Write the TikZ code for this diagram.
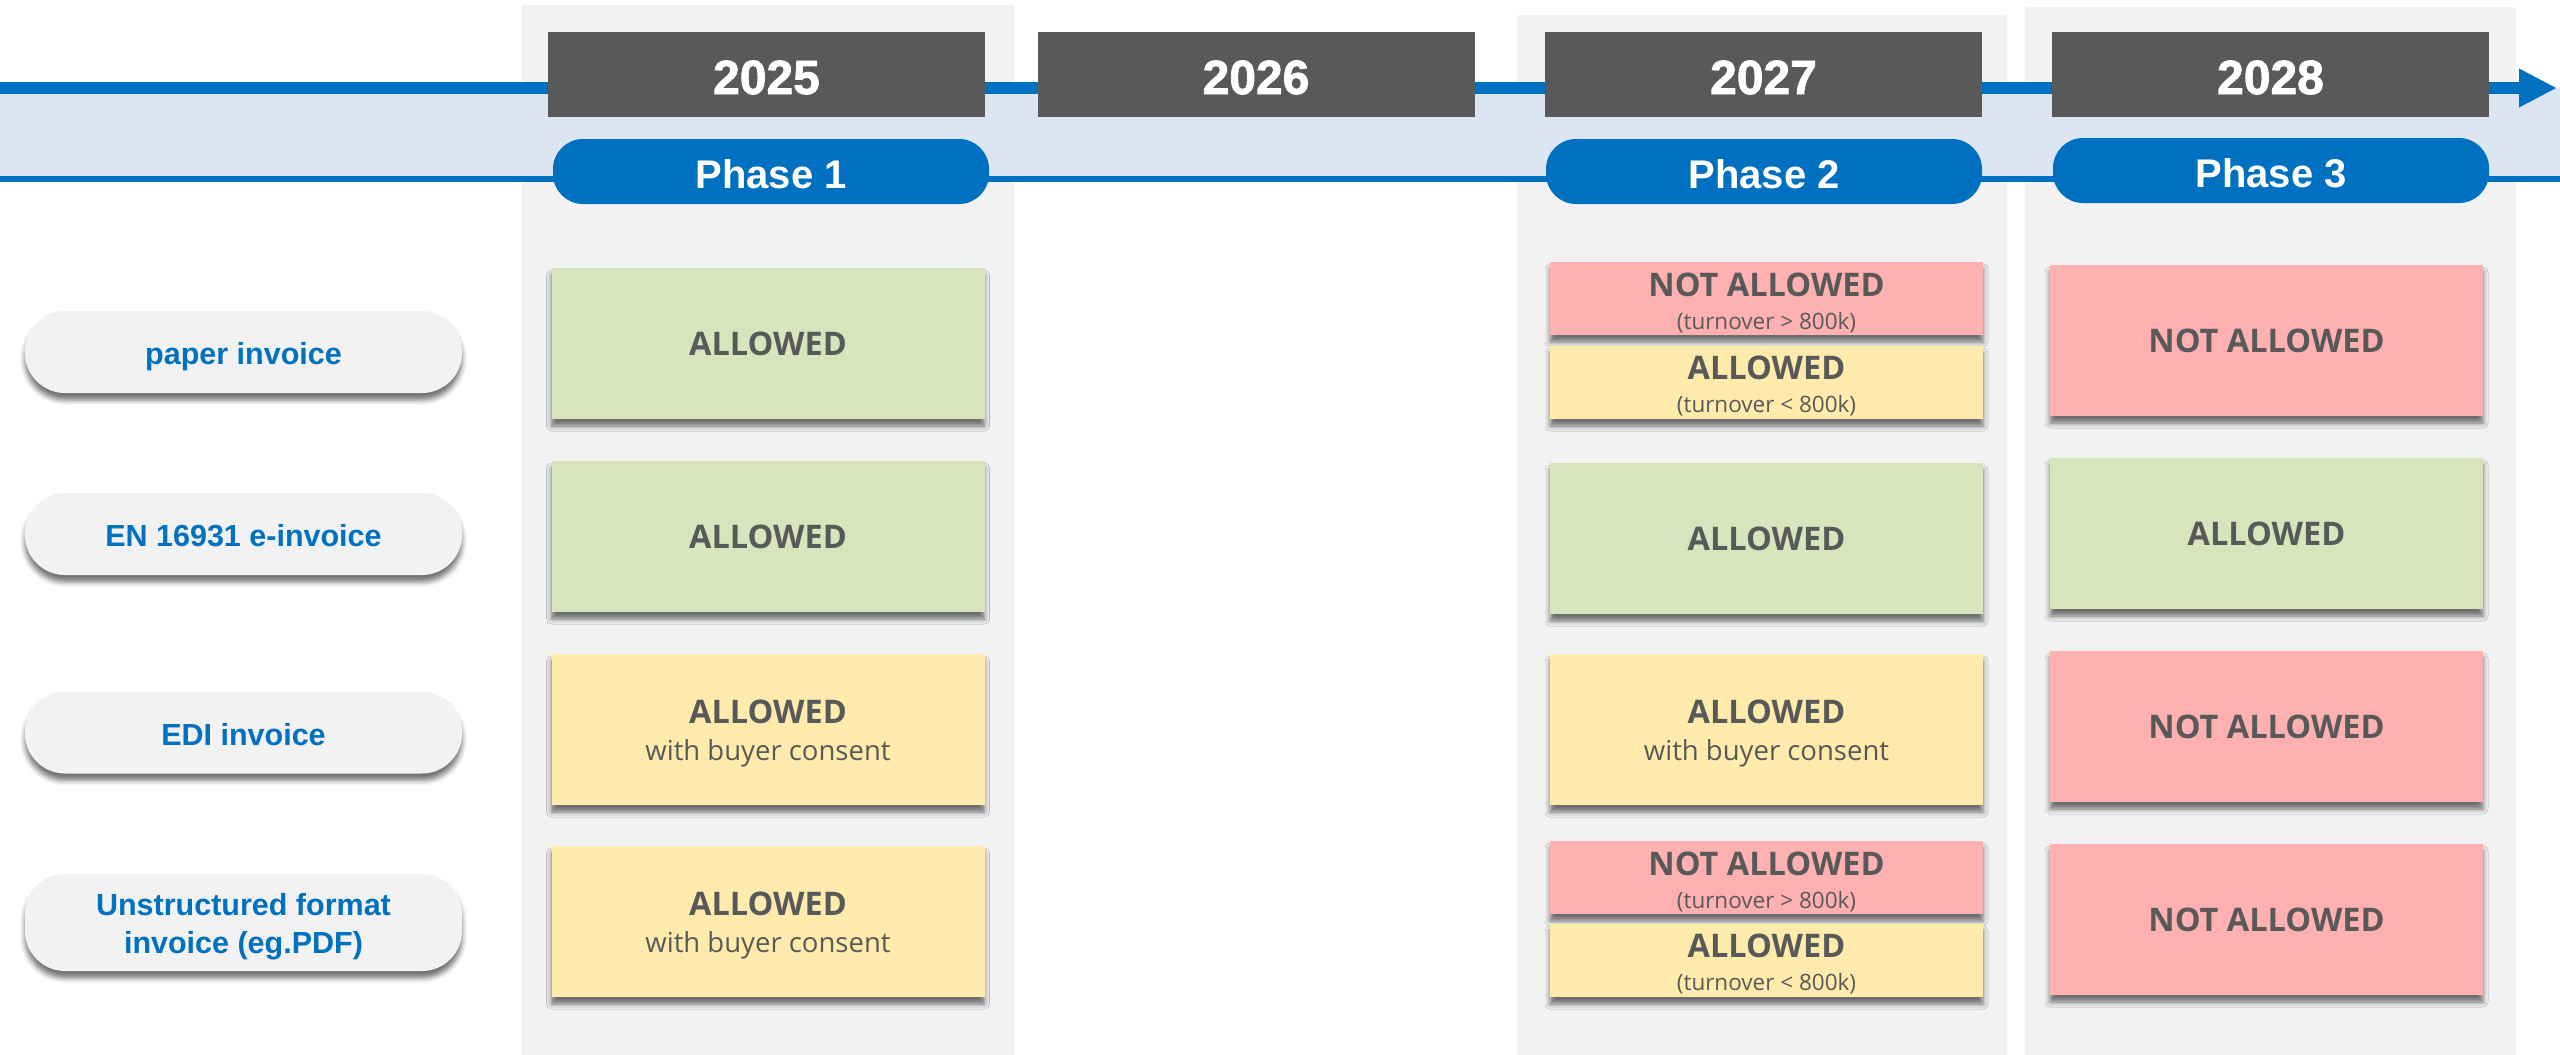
\documentclass[tikz,border=0pt]{standalone}
\usepackage{fontspec}
\setmainfont{Open Sans}
\newfontfamily\hdfont{Liberation Sans}
\newfontfamily\heavyfont[FakeBold=1.6]{Liberation Sans}
\usetikzlibrary{shadows.blur,calc,arrows.meta}
\definecolor{mainblue}{HTML}{0070C0}
\definecolor{bandblue}{HTML}{DCE6F2}
\definecolor{colgray}{HTML}{F2F2F2}
\definecolor{darkbox}{HTML}{595959}
\definecolor{okgreen}{HTML}{D8E4BC}
\definecolor{okyellow}{HTML}{FFEBAB}
\definecolor{nored}{HTML}{FFB1B1}
\definecolor{txtgray}{HTML}{595959}
\begin{document}
\begin{tikzpicture}[x=1pt,y=-1pt,
  colbg/.style={fill=colgray, draw=none, inner sep=0pt, outer sep=0pt},
  yearbox/.style={fill=darkbox, inner sep=0pt, minimum width=437pt, minimum height=85pt},
  phasepill/.style={fill=mainblue, rounded corners=30pt, inner sep=0pt, minimum width=436pt, minimum height=65pt},
  sh/.style={blur shadow={shadow xshift=0pt, shadow yshift=-7pt, shadow blur radius=5pt, shadow opacity=55}},
  rowpill/.style={sh, fill=colgray, rounded corners=40pt, inner sep=0pt, minimum width=437pt},
  cell/.style={sh, inner sep=0pt, minimum width=433pt},
  hdtxt/.style={font=\heavyfont\bfseries\fontsize{48}{58}\selectfont, text=white, anchor=base, inner sep=0pt},
  phtxt/.style={font=\hdfont\bfseries\fontsize{40}{48}\selectfont, text=white, anchor=base, inner sep=0pt},
  rowtxt/.style={font=\hdfont\bfseries\fontsize{30.5}{36}\selectfont, text=mainblue, anchor=base, inner sep=0pt},
  bigtxt/.style={font=\bfseries\fontsize{32.5}{40}\selectfont, text=txtgray, anchor=base, inner sep=0pt},
  subtxt/.style={font=\fontsize{27.5}{34}\selectfont, text=txtgray, anchor=base, inner sep=0pt},
  smalltxt/.style={font=\fontsize{22.5}{28}\selectfont, text=txtgray, anchor=base, inner sep=0pt}
]
\useasboundingbox (0,0) rectangle (2560,1055);
% background columns
\node[colbg, minimum width=492pt, minimum height=1050pt] (col1) at (768,530) {};
\node[colbg, minimum width=490pt, minimum height=1040pt] (col3) at (1762,535) {};
\node[colbg, minimum width=491pt, minimum height=1048pt] (col4) at (2270.5,531) {};
% timeline band
\fill[bandblue] (0,88) rectangle (2560,179);
\coordinate (tlstart) at (0,88);
\coordinate (tlend) at (2557,88);
\coordinate (blstart) at (0,179);
\coordinate (blend) at (2560,179);
\draw[mainblue, line width=12pt, -{Triangle[length=38pt,width=36pt]}] (tlstart) -- (tlend);
\draw[mainblue, line width=6.5pt] (blstart) -- (blend);
% year boxes
\node[yearbox] (y25) at (766.5,74.5) {};
\node[yearbox] (y26) at (1256,74.5) {};
\node[yearbox] (y27) at (1763.5,74.5) {};
\node[yearbox] (y28) at (2270.5,74.5) {};
\node[hdtxt] (y25t) at ($(y25.center)+(0,19.5)$) {2025};
\node[hdtxt] (y26t) at ($(y26.center)+(0,19.5)$) {2026};
\node[hdtxt] (y27t) at ($(y27.center)+(0,19.5)$) {2027};
\node[hdtxt] (y28t) at ($(y28.center)+(0,19.5)$) {2028};
% phase pills
\node[phasepill] (p1) at (771,171.5) {};
\node[phasepill] (p2) at (1764,171.5) {};
\node[phasepill] (p3) at (2271,170.5) {};
\node[phtxt] (p1t) at ($(p1.center)+(0,16.5)$) {Phase 1};
\node[phtxt] (p2t) at ($(p2.center)+(0,16.5)$) {Phase 2};
\node[phtxt] (p3t) at ($(p3.center)+(0,16.5)$) {Phase 3};
% row labels
\node[rowpill, minimum height=82pt] (r1) at (243.5,352) {};
\node[rowpill, minimum height=82pt] (r2) at (243.5,534) {};
\node[rowpill, minimum height=82pt] (r3) at (243.5,732.5) {};
\node[rowpill, minimum height=97pt] (r4) at (243.5,922.5) {};
\node[rowtxt] (r1t) at ($(r1.center)+(0,12)$) {paper invoice};
\node[rowtxt] (r2t) at ($(r2.center)+(0,12.5)$) {EN 16931 e-invoice};
\node[rowtxt] (r3t) at ($(r3.center)+(0,12.5)$) {EDI invoice};
\node[rowtxt] (r4ta) at ($(r4.center)+(0,-7.5)$) {Unstructured format};
\node[rowtxt] (r4tb) at ($(r4.center)+(0,30.5)$) {invoice (eg.PDF)};
% column 2025
\node[cell, fill=okgreen, minimum height=151pt] (c11) at (768,343.5) {};
\node[cell, fill=okgreen, minimum height=151pt] (c12) at (768,536.5) {};
\node[cell, fill=okyellow, minimum height=151pt] (c13) at (768,729.5) {};
\node[cell, fill=okyellow, minimum height=151pt] (c14) at (768,921.5) {};
\node[bigtxt] (c11t) at ($(c11.center)+(0,12)$) {ALLOWED};
\node[bigtxt] (c12t) at ($(c12.center)+(0,12)$) {ALLOWED};
\node[bigtxt] (c13t) at ($(c13.center)+(0,-6.5)$) {ALLOWED};
\node[subtxt] (c13s) at ($(c13.center)+(0,31)$) {with buyer consent};
\node[bigtxt] (c14t) at ($(c14.center)+(0,-6.5)$) {ALLOWED};
\node[subtxt] (c14s) at ($(c14.center)+(0,31)$) {with buyer consent};
% column 2027
\node[cell, fill=nored, minimum height=73pt] (c31a) at (1766.5,298.5) {};
\node[cell, fill=okyellow, minimum height=73pt] (c31b) at (1766.5,382.5) {};
\node[cell, fill=okgreen, minimum height=151pt] (c32) at (1766.5,538.5) {};
\node[cell, fill=okyellow, minimum height=151pt] (c33) at (1766.5,729.5) {};
\node[cell, fill=nored, minimum height=73pt] (c34a) at (1766.5,877.5) {};
\node[cell, fill=okyellow, minimum height=73pt] (c34b) at (1766.5,960.5) {};
\node[bigtxt] (c31at) at ($(c31a.center)+(0,-2.5)$) {NOT ALLOWED};
\node[smalltxt] (c31as) at ($(c31a.center)+(0,30.5)$) {(turnover > 800k)};
\node[bigtxt] (c31bt) at ($(c31b.center)+(0,-3.5)$) {ALLOWED};
\node[smalltxt] (c31bs) at ($(c31b.center)+(0,30)$) {(turnover < 800k)};
\node[bigtxt] (c32t) at ($(c32.center)+(0,12)$) {ALLOWED};
\node[bigtxt] (c33t) at ($(c33.center)+(0,-6.5)$) {ALLOWED};
\node[subtxt] (c33s) at ($(c33.center)+(0,31)$) {with buyer consent};
\node[bigtxt] (c34at) at ($(c34a.center)+(0,-2.5)$) {NOT ALLOWED};
\node[smalltxt] (c34as) at ($(c34a.center)+(0,30.5)$) {(turnover > 800k)};
\node[bigtxt] (c34bt) at ($(c34b.center)+(0,-3.5)$) {ALLOWED};
\node[smalltxt] (c34bs) at ($(c34b.center)+(0,30)$) {(turnover < 800k)};
% column 2028
\node[cell, fill=nored, minimum height=151pt] (c41) at (2266.5,340.5) {};
\node[cell, fill=okgreen, minimum height=151pt] (c42) at (2266.5,533.5) {};
\node[cell, fill=nored, minimum height=151pt] (c43) at (2266.5,726.5) {};
\node[cell, fill=nored, minimum height=151pt] (c44) at (2266.5,919.5) {};
\node[bigtxt] (c41t) at ($(c41.center)+(0,12)$) {NOT ALLOWED};
\node[bigtxt] (c42t) at ($(c42.center)+(0,12)$) {ALLOWED};
\node[bigtxt] (c43t) at ($(c43.center)+(0,12)$) {NOT ALLOWED};
\node[bigtxt] (c44t) at ($(c44.center)+(0,12)$) {NOT ALLOWED};
\end{tikzpicture}
\end{document}
